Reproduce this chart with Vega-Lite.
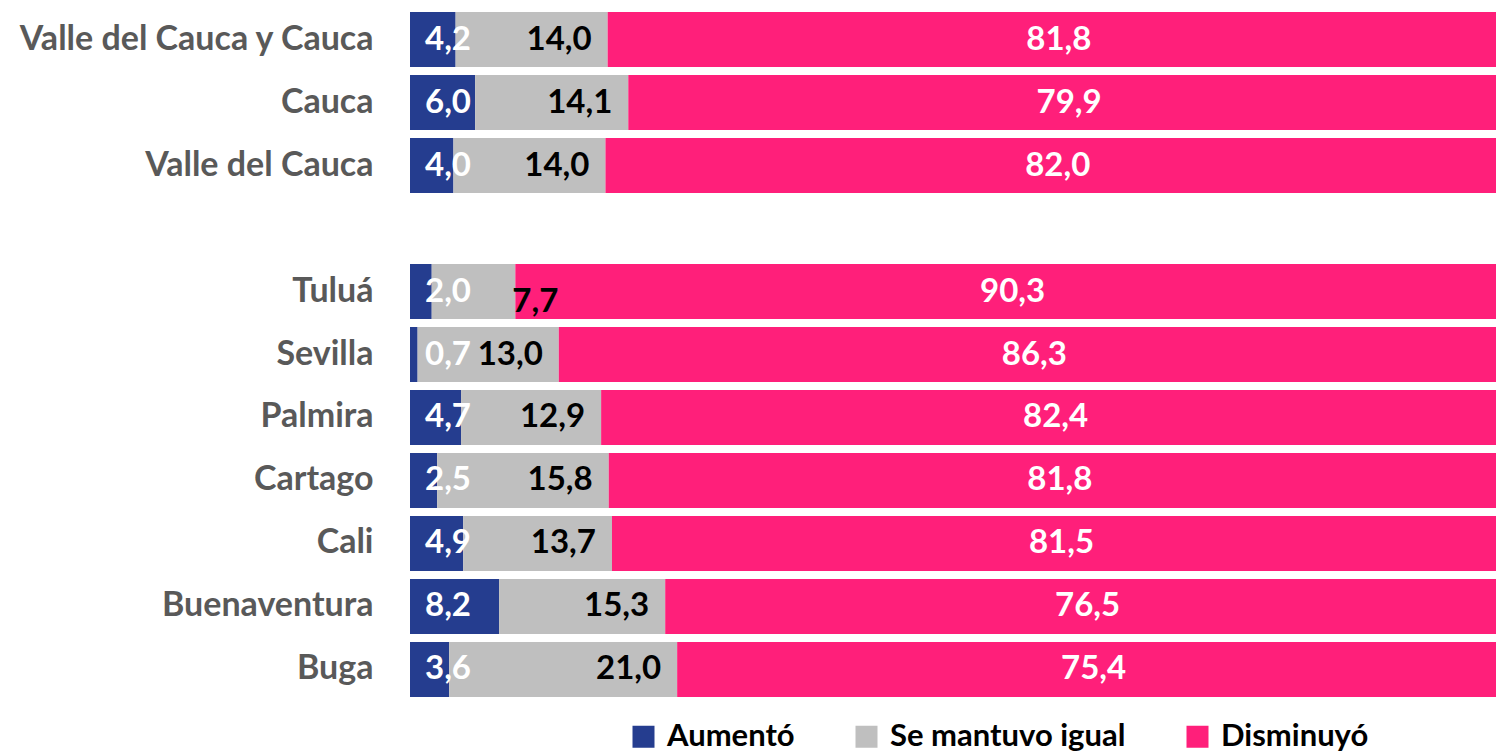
{
  "$schema": "https://vega.github.io/schema/vega-lite/v6.json",
  "width": 1086,
  "height": 693,
  "autosize": "none",
  "padding": {"left": 410, "top": 8, "right": 0, "bottom": 52},
  "background": "white",
  "config": {
    "view": {"stroke": null},
    "font": "Lato",
    "locale": {"number": {"decimal": ",", "thousands": ".", "grouping": [3], "currency": ["$", ""]}}
  },
  "data": {
    "values": [
      {"cat": "Valle del Cauca y Cauca", "grupo": "Aumentó", "orden": 1, "valor": 4.2},
      {"cat": "Valle del Cauca y Cauca", "grupo": "Se mantuvo igual", "orden": 2, "valor": 14.0},
      {"cat": "Valle del Cauca y Cauca", "grupo": "Disminuyó", "orden": 3, "valor": 81.8},
      {"cat": "Cauca", "grupo": "Aumentó", "orden": 1, "valor": 6.0},
      {"cat": "Cauca", "grupo": "Se mantuvo igual", "orden": 2, "valor": 14.1},
      {"cat": "Cauca", "grupo": "Disminuyó", "orden": 3, "valor": 79.9},
      {"cat": "Valle del Cauca ", "grupo": "Aumentó", "orden": 1, "valor": 4.0},
      {"cat": "Valle del Cauca ", "grupo": "Se mantuvo igual", "orden": 2, "valor": 14.0},
      {"cat": "Valle del Cauca ", "grupo": "Disminuyó", "orden": 3, "valor": 82.0},
      {"cat": "Tuluá", "grupo": "Aumentó", "orden": 1, "valor": 2.0},
      {"cat": "Tuluá", "grupo": "Se mantuvo igual", "orden": 2, "valor": 7.7},
      {"cat": "Tuluá", "grupo": "Disminuyó", "orden": 3, "valor": 90.3},
      {"cat": "Sevilla", "grupo": "Aumentó", "orden": 1, "valor": 0.7},
      {"cat": "Sevilla", "grupo": "Se mantuvo igual", "orden": 2, "valor": 13.0},
      {"cat": "Sevilla", "grupo": "Disminuyó", "orden": 3, "valor": 86.3},
      {"cat": "Palmira", "grupo": "Aumentó", "orden": 1, "valor": 4.7},
      {"cat": "Palmira", "grupo": "Se mantuvo igual", "orden": 2, "valor": 12.9},
      {"cat": "Palmira", "grupo": "Disminuyó", "orden": 3, "valor": 82.4},
      {"cat": "Cartago", "grupo": "Aumentó", "orden": 1, "valor": 2.5},
      {"cat": "Cartago", "grupo": "Se mantuvo igual", "orden": 2, "valor": 15.8},
      {"cat": "Cartago", "grupo": "Disminuyó", "orden": 3, "valor": 81.8},
      {"cat": "Cali", "grupo": "Aumentó", "orden": 1, "valor": 4.9},
      {"cat": "Cali", "grupo": "Se mantuvo igual", "orden": 2, "valor": 13.7},
      {"cat": "Cali", "grupo": "Disminuyó", "orden": 3, "valor": 81.5},
      {"cat": "Buenaventura", "grupo": "Aumentó", "orden": 1, "valor": 8.2},
      {"cat": "Buenaventura", "grupo": "Se mantuvo igual", "orden": 2, "valor": 15.3},
      {"cat": "Buenaventura", "grupo": "Disminuyó", "orden": 3, "valor": 76.5},
      {"cat": "Buga", "grupo": "Aumentó", "orden": 1, "valor": 3.6},
      {"cat": "Buga", "grupo": "Se mantuvo igual", "orden": 2, "valor": 21.0},
      {"cat": "Buga", "grupo": "Disminuyó", "orden": 3, "valor": 75.4}
    ]
  },
  "transform": [
    {"stack": "valor", "groupby": ["cat"], "sort": [{"field": "orden"}], "as": ["x0", "x1"]},
    {"calculate": "(datum.x0 + datum.x1) / 2", "as": "xm"}
  ],
  "encoding": {
    "y": {
      "field": "cat",
      "type": "nominal",
      "title": null,
      "scale": {
        "domain": ["Valle del Cauca y Cauca", "Cauca", "Valle del Cauca ", " ", "Tuluá", "Sevilla", "Palmira", "Cartago", "Cali", "Buenaventura", "Buga"],
        "paddingInner": 0.127,
        "paddingOuter": 0.064
      },
      "axis": {
        "domain": false,
        "ticks": false,
        "labelPadding": 37,
        "labelFont": "Lato",
        "labelFontSize": 34,
        "labelFontWeight": "bold",
        "labelColor": "#595959",
        "labelLimit": 500
      }
    }
  },
  "layer": [
    {
      "mark": {"type": "bar"},
      "encoding": {
        "x": {"field": "x0", "type": "quantitative", "scale": {"domain": [0, 100], "nice": false}, "axis": null},
        "x2": {"field": "x1"},
        "color": {
          "field": "grupo",
          "type": "nominal",
          "scale": {"domain": ["Aumentó", "Se mantuvo igual", "Disminuyó"], "range": ["#253D8F", "#BFBFBF", "#FF1F7A"]},
          "legend": {
            "title": null,
            "orient": "none",
            "legendX": 218,
            "legendY": 713,
            "direction": "horizontal",
            "symbolType": "square",
            "symbolSize": 484,
            "symbolStrokeWidth": 0,
            "symbolOpacity": 1,
            "labelFont": "Lato",
            "labelFontSize": 31,
            "labelFontWeight": "bold",
            "labelColor": "#000000",
            "labelOffset": 8,
            "columnPadding": 56,
            "labelLimit": 400
          }
        }
      }
    },
    {
      "transform": [{"filter": "datum.grupo === 'Aumentó'"}],
      "mark": {"type": "text", "align": "left", "dx": 15, "font": "Lato", "fontSize": 33, "fontWeight": "bold", "color": "white"},
      "encoding": {
        "x": {"field": "x0", "type": "quantitative"},
        "text": {"field": "valor", "type": "quantitative", "format": ".1f"}
      }
    },
    {
      "transform": [{"filter": "datum.grupo === 'Se mantuvo igual' && datum.valor >= 10"}],
      "mark": {"type": "text", "align": "right", "dx": -16, "font": "Lato", "fontSize": 33, "fontWeight": "bold", "color": "black"},
      "encoding": {
        "x": {"field": "x1", "type": "quantitative"},
        "text": {"field": "valor", "type": "quantitative", "format": ".1f"}
      }
    },
    {
      "transform": [{"filter": "datum.grupo === 'Se mantuvo igual' && datum.valor < 10"}],
      "mark": {"type": "text", "align": "left", "dx": -3, "dy": 10, "font": "Lato", "fontSize": 33, "fontWeight": "bold", "color": "black"},
      "encoding": {
        "x": {"field": "x1", "type": "quantitative"},
        "text": {"field": "valor", "type": "quantitative", "format": ".1f"}
      }
    },
    {
      "transform": [{"filter": "datum.grupo === 'Disminuyó'"}],
      "mark": {"type": "text", "align": "center", "dx": 7, "font": "Lato", "fontSize": 33, "fontWeight": "bold", "color": "white"},
      "encoding": {
        "x": {"field": "xm", "type": "quantitative"},
        "text": {"field": "valor", "type": "quantitative", "format": ".1f"}
      }
    }
  ]
}
